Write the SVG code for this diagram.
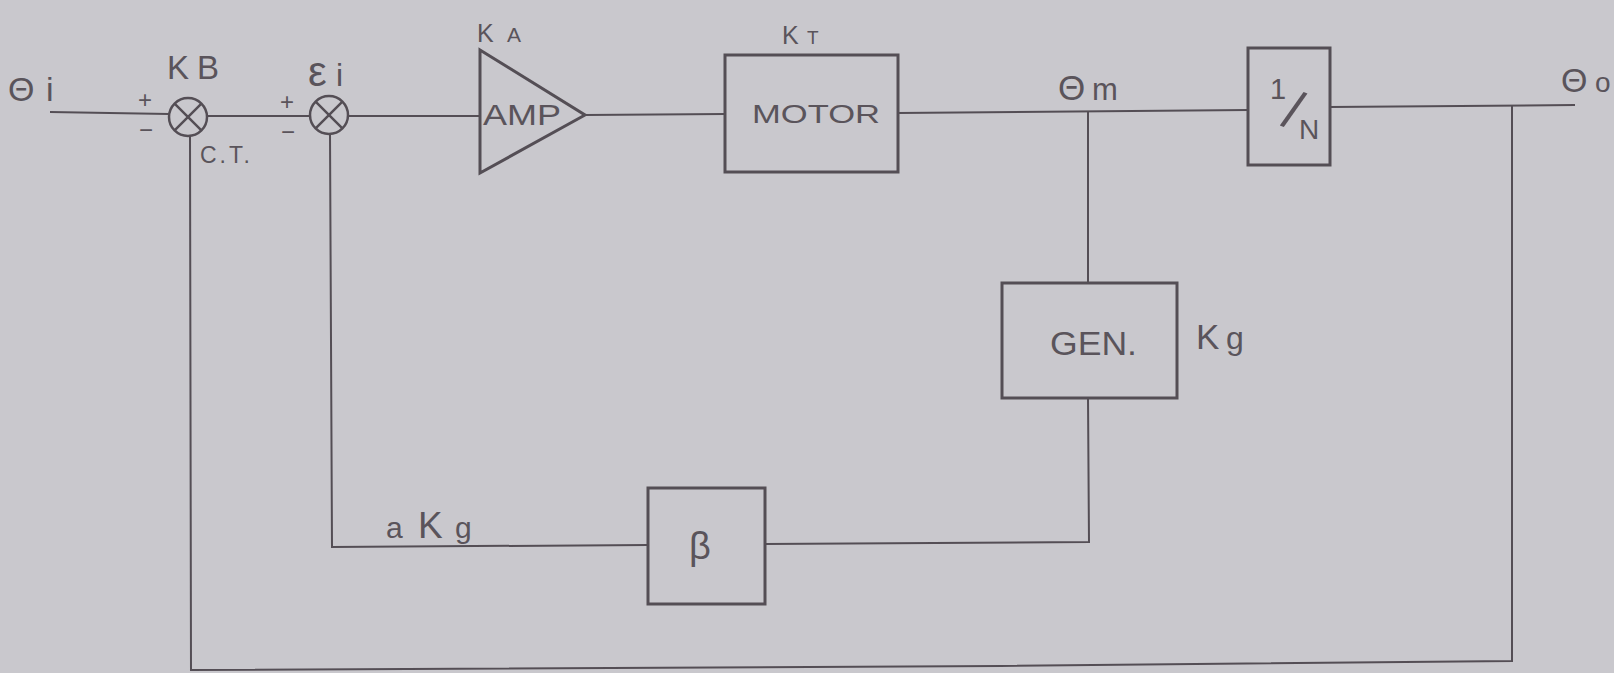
<svg xmlns="http://www.w3.org/2000/svg" width="1614" height="673" viewBox="0 0 1614 673">
<style>
.bg{fill:#c9c8cd}
.box{fill:none;stroke:#544e55;stroke-width:3}
.ln{fill:none;stroke:#544e55;stroke-width:2;stroke-linejoin:miter}
.sum{fill:none;stroke:#544e55;stroke-width:2.5}
.t{font-family:"Liberation Sans",Arial,sans-serif;fill:#5a545b}
.pm{font-family:"Liberation Sans",Arial,sans-serif;fill:#5a545b;font-size:24px;text-anchor:middle}
</style>
<rect class="bg" x="0" y="0" width="1614" height="673"/>
<g id="connectors">
<path class="ln" d="M50,112 L169,114"/>
<path class="ln" d="M207,116 L310,116"/>
<path class="ln" d="M348,116 L480,116"/>
<path class="ln" d="M585,115 L725,114"/>
<path class="ln" d="M898,113 L1248,110"/>
<path class="ln" d="M1330,107 L1575,105"/>
<path class="ln" d="M1088,111 L1088,283"/>
<path class="ln" d="M1088,398 L1089,542 L765,544"/>
<path class="ln" d="M648,545 L332,547 L330,134"/>
<path class="ln" d="M1512,105 L1512,661 L1000,666 L191,670 L190,136"/>
</g>
<g id="input-label"><text class="t" font-size="34"><tspan x="8" y="101">Θ</tspan><tspan x="46" y="101">i</tspan></text></g>
<g id="sum1">
<circle class="sum" cx="188" cy="117" r="19"/>
<path class="sum" d="M174.6,103.6 L201.4,130.4 M201.4,103.6 L174.6,130.4"/>
<text class="pm" x="145" y="108">+</text>
<text class="pm" x="146" y="138">−</text>
<text class="t" font-size="33"><tspan x="167" y="79">K</tspan><tspan x="197" y="79">B</tspan></text>
<text class="t" font-size="23" x="200" y="163" letter-spacing="3">C.T.</text>
</g>
<g id="sum2">
<circle class="sum" cx="329" cy="115" r="19"/>
<path class="sum" d="M315.6,101.6 L342.4,128.4 M342.4,101.6 L315.6,128.4"/>
<text class="pm" x="287" y="110">+</text>
<text class="pm" x="288" y="140">−</text>
<text class="t"><tspan x="308" y="86" font-size="42">ε</tspan><tspan x="336" y="86" font-size="32">i</tspan></text>
</g>
<g id="amp">
<path class="box" d="M480,50 L585,115 L480,173 Z"/>
<text class="t" font-size="30" x="483" y="125" textLength="78" lengthAdjust="spacingAndGlyphs">AMP</text>
<text class="t"><tspan x="477" y="42" font-size="25">K</tspan><tspan x="507" y="42" font-size="21">A</tspan></text>
</g>
<g id="motor">
<rect class="box" x="725" y="55" width="173" height="117"/>
<text class="t" font-size="26" x="752" y="123" textLength="128" lengthAdjust="spacingAndGlyphs">MOTOR</text>
<text class="t"><tspan x="782" y="44" font-size="25">K</tspan><tspan x="807" y="44" font-size="19">T</tspan></text>
</g>
<g id="theta-m"><text class="t"><tspan x="1058" y="100" font-size="35">Θ</tspan><tspan x="1092" y="100" font-size="31">m</tspan></text></g>
<g id="gear">
<rect class="box" x="1248" y="48" width="82" height="117"/>
<text class="t"><tspan x="1270" y="99" font-size="29">1</tspan><tspan x="1280" y="125" font-size="54" rotate="20">/</tspan><tspan x="1299" y="139" font-size="28">N</tspan></text>
</g>
<g id="output-label"><text class="t"><tspan x="1561" y="92" font-size="34">Θ</tspan><tspan x="1595" y="92" font-size="28">o</tspan></text></g>
<g id="gen">
<rect class="box" x="1002" y="283" width="175" height="115"/>
<text class="t" font-size="34" x="1050" y="355" textLength="87" lengthAdjust="spacingAndGlyphs">GEN.</text>
<text class="t"><tspan x="1196" y="349" font-size="35">K</tspan><tspan x="1226" y="349" font-size="32">g</tspan></text>
</g>
<g id="beta">
<rect class="box" x="648" y="488" width="117" height="116"/>
<text class="t" font-size="38" x="689" y="559">β</text>
</g>
<g id="akg-label"><text class="t"><tspan x="386" y="538" font-size="30">a</tspan><tspan x="418" y="538" font-size="37">K</tspan><tspan x="455" y="538" font-size="30">g</tspan></text></g>
</svg>
